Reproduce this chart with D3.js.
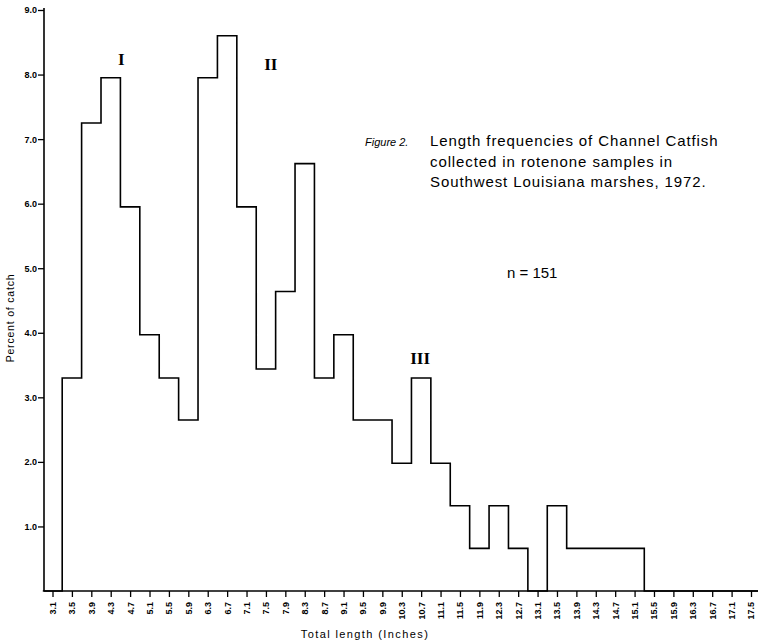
<!DOCTYPE html>
<html>
<head>
<meta charset="utf-8">
<script src="https://cdn.jsdelivr.net/npm/d3@7"></script>
<style>
  body { margin: 0; background: #fff; }
  svg { display: block; }
</style>
</head>
<body>
<div id="chart"></div>
<script>
// length classes (inches), bin centres
var lengths = [3.1, 3.5, 3.9, 4.3, 4.7, 5.1, 5.5, 5.9, 6.3, 6.7, 7.1, 7.5, 7.9, 8.3, 8.7, 9.1, 9.5, 9.9, 10.3,
  10.7, 11.1, 11.5, 11.9, 12.3, 12.7, 13.1, 13.5, 13.9, 14.3, 14.7, 15.1, 15.5, 15.9, 16.3, 16.7, 17.1, 17.5];
// percent of catch per length class
var percents = [0, 3.3, 7.25, 7.95, 5.95, 3.97, 3.3, 2.65, 7.95, 8.6, 5.95, 3.44, 4.64, 6.62, 3.3, 3.97, 2.65, 2.65, 1.98,
  3.3, 1.98, 1.32, 0.66, 1.32, 0.66, 0, 1.32, 0.66, 0.66, 0.66, 0.66, 0, 0, 0, 0, 0, 0];
var yTicks = [1, 2, 3, 4, 5, 6, 7, 8, 9];
var xTickLabels = ["3.1", "3.5", "3.9", "4.3", "4.7", "5.1", "5.5", "5.9", "6.3", "6.7", "7.1", "7.5", "7.9", "8.3",
  "8.7", "9.1", "9.5", "9.9", "10.3", "10.7", "11.1", "11.5", "11.9", "12.3", "12.7", "13.1", "13.5", "13.9", "14.3",
  "14.7", "15.1", "15.5", "15.9", "16.3", "16.7", "17.1", "17.5"];
// cohort labels: [numeral, length, percent]
var cohorts = [["I", 4.52, 8.15], ["II", 7.6, 8.07], ["III", 10.68, 3.52]];
var caption = ["Length frequencies of Channel Catfish", "collected in rotenone samples in", "Southwest Louisiana marshes, 1972."];

var W = 758, H = 642;
var sans = "'Liberation Sans', Arial, sans-serif";

var svg = d3.select("#chart").append("svg")
  .attr("width", W)
  .attr("height", H);

var x = d3.scaleLinear().domain([3.1, 17.5]).range([52.5, 751]);
var y = d3.scaleLinear().domain([0, 9]).range([591, 10]);
var half = 0.2;

// step outline of the histogram
var pts = lengths.map(function(l, i) { return [l - half, percents[i]]; });
pts.push([lengths[lengths.length - 1] + half, percents[percents.length - 1]]);

var line = d3.line()
  .x(function(d) { return x(d[0]); })
  .y(function(d) { return y(d[1]); })
  .curve(d3.curveStepAfter);

svg.append("path")
  .attr("d", line(pts))
  .attr("fill", "none")
  .attr("stroke", "#000")
  .attr("stroke-width", 1.6);

// y axis
var yAxis = svg.append("g")
  .attr("transform", "translate(44,0)")
  .call(d3.axisLeft(y).tickValues(yTicks).tickFormat(d3.format(".1f")).tickSize(6).tickSizeOuter(0));
yAxis.select(".domain").attr("d", "M0,8V591").attr("stroke-width", 1.6);
yAxis.selectAll(".tick line").attr("stroke-width", 1.3);
yAxis.selectAll(".tick text")
  .attr("x", -7)
  .style("font-family", sans)
  .style("font-size", "9px")
  .style("font-weight", "bold");

// x axis
var xAxis = svg.append("g")
  .attr("transform", "translate(0,591)")
  .call(d3.axisBottom(x).tickValues(lengths).tickFormat(function(d, i) { return xTickLabels[i]; }).tickSize(6).tickSizeOuter(0));
xAxis.select(".domain").attr("d", "M44,0H758").attr("stroke-width", 1.6);
xAxis.selectAll(".tick line").attr("stroke-width", 1.3);
xAxis.selectAll(".tick text")
  .attr("transform", "rotate(-90)")
  .attr("x", -11)
  .attr("y", 0)
  .attr("dy", "0.32em")
  .attr("text-anchor", "end")
  .style("font-family", sans)
  .style("font-size", "9px")
  .style("font-weight", "bold");

// axis titles
svg.append("text")
  .attr("x", 365)
  .attr("y", 638)
  .attr("text-anchor", "middle")
  .style("font-family", sans)
  .style("font-size", "11px")
  .style("letter-spacing", "1.4px")
  .text("Total length  (Inches)");

svg.append("text")
  .attr("transform", "translate(14,318) rotate(-90)")
  .attr("text-anchor", "middle")
  .style("font-family", sans)
  .style("font-size", "10.5px")
  .style("letter-spacing", "0.8px")
  .text("Percent  of  catch");

// cohort numerals
svg.selectAll(".cohort")
  .data(cohorts)
  .enter().append("text")
  .attr("class", "cohort")
  .attr("x", function(d) { return x(d[1]); })
  .attr("y", function(d) { return y(d[2]); })
  .attr("text-anchor", "middle")
  .style("font-family", "'Liberation Serif', serif")
  .style("font-weight", "bold")
  .style("font-size", "17px")
  .text(function(d) { return d[0]; });

// caption
svg.append("text")
  .attr("x", 365)
  .attr("y", 146)
  .style("font-family", sans)
  .style("font-style", "italic")
  .style("font-size", "11px")
  .text("Figure 2.");

svg.selectAll(".caption")
  .data(caption)
  .enter().append("text")
  .attr("class", "caption")
  .attr("x", 430)
  .attr("y", function(d, i) { return 146 + i * 20.5; })
  .style("font-family", sans)
  .style("font-size", "15px")
  .style("letter-spacing", "0.9px")
  .text(function(d) { return d; });

svg.append("text")
  .attr("x", 507)
  .attr("y", 278)
  .style("font-family", sans)
  .style("font-size", "15px")
  .text("n = 151");
</script>
</body>
</html>
